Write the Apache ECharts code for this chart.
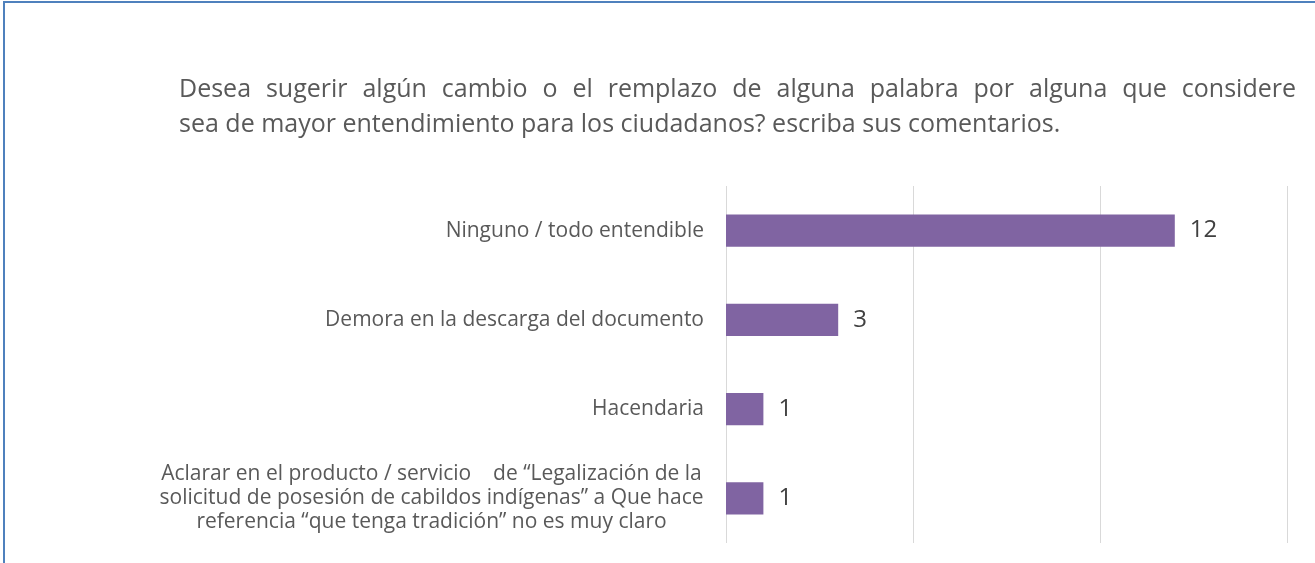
<!DOCTYPE html>
<html>
<head>
<meta charset="utf-8">
<script src="https://cdn.jsdelivr.net/npm/echarts@6/dist/echarts.min.js"></script>
<style>
  html, body { margin: 0; padding: 0; background: #fff; }
  #chart { width: 1315px; height: 563px; }
</style>
</head>
<body>
<div id="chart"></div>
<script>
// datos
var titleLines = [
  'Desea sugerir algún cambio o el remplazo de alguna palabra por alguna que considere',
  'sea de mayor entendimiento para los ciudadanos? escriba sus comentarios.'
];
var categories = [
  'Ninguno / todo entendible',
  'Demora en la descarga del documento',
  'Hacendaria',
  'Aclarar en el producto / servicio    de “Legalización de la\nsolicitud de posesión de cabildos indígenas” a Que hace\nreferencia “que tenga tradición” no es muy claro'
];
var values = [12, 3, 1, 1];
var axisMax = 15, axisStep = 5;

var TITLE_FONT = '25px "Open Sans"';
var titleLeft = 179, titleRight = 1296, titleTop = 77, titleLineH = 35;

// primera linea justificada como en el original
function titleGraphics() {
  var ctx = document.createElement('canvas').getContext('2d');
  ctx.font = TITLE_FONT;
  var out = [];
  var words = titleLines[0].split(' ');
  var widths = words.map(function (w) { return ctx.measureText(w).width; });
  var sum = widths.reduce(function (a, b) { return a + b; }, 0);
  var gap = (titleRight - titleLeft - sum) / (words.length - 1);
  var x = titleLeft;
  words.forEach(function (w, i) {
    out.push({ type: 'text', left: x, top: titleTop,
      style: { text: w, font: TITLE_FONT, fill: '#595959' } });
    x += widths[i] + gap;
  });
  out.push({ type: 'text', left: titleLeft, top: titleTop + titleLineH,
    style: { text: titleLines[1], font: TITLE_FONT, fill: '#595959' } });
  return out;
}

var myChart = echarts.init(document.getElementById('chart'));
var option = {
  backgroundColor: '#ffffff',
  animation: false,
  graphic: [{
    type: 'rect', shape: { x: 4, y: 2, width: 3000, height: 3000 },
    style: { fill: 'none', stroke: '#4F81BD', lineWidth: 2 }, silent: true
  }].concat(titleGraphics()),
  grid: { left: 726, right: 28, top: 186, bottom: 20 },
  xAxis: {
    type: 'value', min: 0, max: axisMax, interval: axisStep,
    axisLabel: { show: false }, axisLine: { show: false }, axisTick: { show: false },
    splitLine: { show: true, lineStyle: { color: '#D9D9D9', width: 1 } }
  },
  yAxis: {
    type: 'category', data: categories, inverse: true,
    axisLine: { show: false }, axisTick: { show: false },
    axisLabel: {
      margin: 22, color: '#595959', fontFamily: 'Open Sans', fontSize: 21, lineHeight: 24,
      formatter: function (v) {
        if (v.indexOf('\n') >= 0) {
          return v.split('\n').map(function (s) { return '{c|' + s + '}'; }).join('\n');
        }
        return v;
      },
      rich: { c: { width: 545, align: 'center', color: '#595959', fontFamily: 'Open Sans', fontSize: 21, lineHeight: 24 } }
    }
  },
  series: [{
    type: 'bar', data: values, barCategoryGap: '64%',
    itemStyle: { color: '#8064A2' },
    label: { show: true, position: 'right', distance: 15, color: '#404040', fontFamily: 'Open Sans', fontSize: 24 }
  }]
};
myChart.setOption(option);
</script>
</body>
</html>
